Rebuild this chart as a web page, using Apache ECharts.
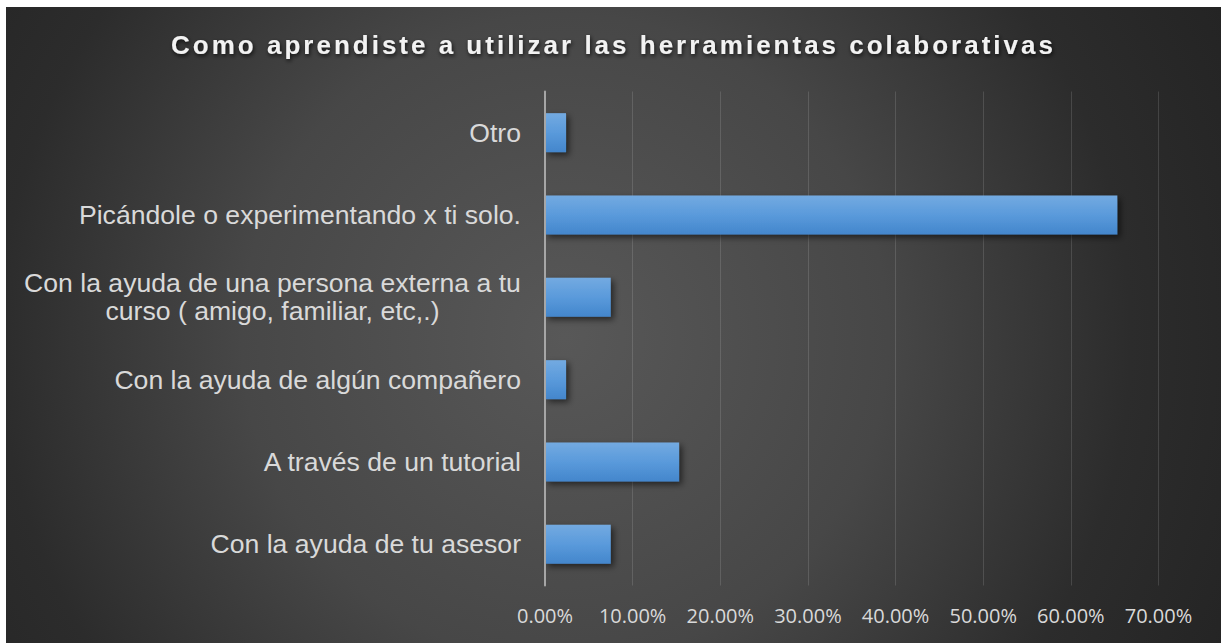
<!DOCTYPE html>
<html>
<head>
<meta charset="utf-8">
<script src="https://cdn.jsdelivr.net/npm/echarts@6/dist/echarts.min.js"></script>
<style>
html, body { margin: 0; padding: 0; background: #ffffff; width: 1221px; height: 643px; overflow: hidden; }
#chart {
  position: absolute; left: 6px; top: 7px; width: 1215px; height: 636px;
  background: radial-gradient(circle farthest-corner at 46% 52%, #585858 0%, #474747 44%, #2c2c2c 77%, #242424 100%);
}
</style>
</head>
<body>
<div id="chart"></div>
<script>
// ---- data ----
const TITLE = 'Como aprendiste a utilizar las herramientas colaborativas';
const categories = [
  'Con la ayuda de tu asesor',
  'A través de un tutorial',
  'Con la ayuda de algún compañero',
  'Con la ayuda de una persona externa a tu\ncurso ( amigo, familiar, etc,.)',
  'Picándole o experimentando x ti solo.',
  'Otro'
];
const values = [7.5, 15.3, 2.4, 7.5, 65.3, 2.4];
const xMin = 0;
const xMax = 70;
const xStep = 10;
const xTickDecimals = 2;

// ---- styles ----
const LABEL_FONT = 'Liberation Sans';
const LABEL_SIZE = 26.6;
const LABEL_COLOR = '#d9d9d9';

const mctx = document.createElement('canvas').getContext('2d');
mctx.font = LABEL_SIZE + 'px "' + LABEL_FONT + '"';
let wrapWidth = 0;
categories.forEach(c => {
  const lines = c.split('\n');
  if (lines.length > 1) lines.forEach(l => { wrapWidth = Math.max(wrapWidth, mctx.measureText(l).width); });
});
wrapWidth = Math.ceil(wrapWidth);

const chart = echarts.init(document.getElementById('chart'), null, { renderer: 'svg' });

const option = {
  animation: false,
  title: {
    text: TITLE,
    left: 'center',
    top: 20,
    textStyle: {
      color: '#f2f2f2',
      fontWeight: 'bold',
      fontSize: 26,
      fontFamily: 'Liberation Sans',
      textShadowColor: 'rgba(0,0,0,0.75)',
      textShadowBlur: 4,
      textShadowOffsetX: 1,
      textShadowOffsetY: 2
    }
  },
  grid: { left: 539, right: 62.5, top: 84.5, bottom: 57.5, containLabel: false },
  xAxis: {
    type: 'value',
    min: xMin, max: xMax, interval: xStep,
    axisLine: { show: false },
    axisTick: { show: false },
    splitLine: { show: true, lineStyle: { color: 'rgba(255,255,255,0.13)', width: 1 } },
    axisLabel: {
      color: LABEL_COLOR,
      fontFamily: 'Open Sans',
      fontSize: 20,
      margin: 20,
      formatter: v => v.toFixed(xTickDecimals) + '%'
    }
  },
  yAxis: {
    type: 'category',
    data: categories,
    z: 5,
    axisLine: { show: true, lineStyle: { color: '#a6a6a6', width: 2 } },
    axisTick: { show: false },
    splitLine: { show: false },
    axisLabel: {
      margin: 24,
      color: LABEL_COLOR,
      fontSize: LABEL_SIZE,
      fontFamily: LABEL_FONT,
      formatter: function (v) {
        const lines = v.split('\n');
        if (lines.length === 1) return v;
        return lines.map(l => '{w|' + l + '}').join('\n');
      },
      rich: {
        w: {
          width: wrapWidth,
          align: 'center',
          lineHeight: 28,
          fontSize: LABEL_SIZE,
          fontFamily: LABEL_FONT,
          color: LABEL_COLOR
        }
      }
    }
  },
  series: [{
    type: 'bar',
    data: values,
    barWidth: 39,
    itemStyle: {
      color: new echarts.graphic.LinearGradient(0, 0, 0, 1, [
        { offset: 0, color: '#73aae1' },
        { offset: 0.5, color: '#5a9adb' },
        { offset: 1, color: '#4386cc' }
      ]),
      shadowBlur: 6,
      shadowOffsetX: 3,
      shadowOffsetY: 3,
      shadowColor: 'rgba(0,0,0,0.55)'
    }
  }]
};
chart.setOption(option);

function applySpacing() {
  document.querySelectorAll('#chart text').forEach(t => {
    if (t.textContent === TITLE) t.setAttribute('letter-spacing', '3px');
  });
}
applySpacing();
chart.on('finished', applySpacing);
</script>
</body>
</html>
